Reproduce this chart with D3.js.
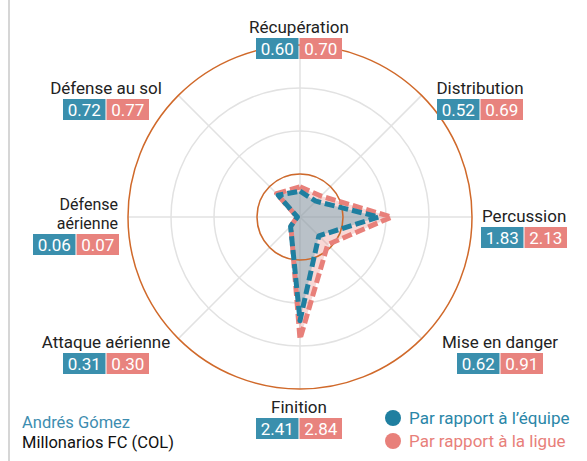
<!DOCTYPE html>
<html>
<head>
<meta charset="utf-8">
<script src="https://cdn.jsdelivr.net/npm/d3@7"></script>
<style>
  html, body { margin: 0; padding: 0; background: #fff; }
  svg { display: block; font-family: Roboto, "Noto Sans", sans-serif; }
</style>
</head>
<body>
<svg id="chart" width="587" height="461"></svg>
<script>
// ---- data ----
const categories = ["Récupération", "Distribution", "Percussion", "Mise en danger",
                    "Finition", "Attaque aérienne", "Défense aérienne", "Défense au sol"];
const teamValues   = [0.60, 0.52, 1.83, 0.62, 2.41, 0.31, 0.06, 0.72];
const leagueValues = [0.70, 0.69, 2.13, 0.91, 2.84, 0.30, 0.07, 0.77];
const gridTicks = [1, 2, 3, 4];
const playerName = "Andrés Gómez";
const clubName = "Millonarios FC (COL)";
const legendLabels = ["Par rapport à l’équipe", "Par rapport à la ligue"];

// ---- layout / style ----
const W = 587, H = 461;
const cx = 300, cy = 217, R = 172;
const colors = {
  teamLine: "#1f7fa0", leagueLine: "#e8807a",
  teamBox: "#3a8fad", leagueBox: "#e8837e",
  grid: "#e2e2e2", orange: "#d0692a", text: "#222"
};
// label block placement relative to chart centre: box-centre x offset, box-top y offset, text anchor
const labelLayout = [
  {dx: -1,   dy: -179, anchor: "middle"},
  {dx: 180,  dy: -118, anchor: "middle"},
  {dx: 224,  dy: 10,   anchor: "start"},
  {dx: 200,  dy: 136,  anchor: "middle"},
  {dx: -1,   dy: 201,  anchor: "middle"},
  {dx: -194, dy: 136,  anchor: "middle"},
  {dx: -224, dy: 17,   anchor: "end", wrap: true},
  {dx: -194, dy: -118, anchor: "middle"}
];
const boxW = 42.5, boxH = 21, boxGap = 1;

const svg = d3.select("#chart");

// left border
svg.append("line").attr("x1", 9).attr("x2", 9).attr("y1", 0).attr("y2", H)
  .attr("stroke", "#d6d6d6").attr("stroke-width", 2);

const g = svg.append("g").attr("transform", `translate(${cx},${cy})`);

const r = d3.scaleLinear().domain([0, 4]).range([0, R]);
const angle = d3.scaleLinear().domain([0, categories.length]).range([0, 2 * Math.PI]);

// grid circles
g.selectAll("circle.grid").data(gridTicks.slice(0, 3)).join("circle")
  .attr("class", "grid").attr("r", d => r(d))
  .attr("fill", "none").attr("stroke", colors.grid).attr("stroke-width", 1.5);

// spokes
g.selectAll("line.spoke").data(categories).join("line")
  .attr("class", "spoke")
  .attr("x1", 0).attr("y1", 0)
  .attr("x2", (d, i) => r(4) * Math.sin(angle(i)))
  .attr("y2", (d, i) => -r(4) * Math.cos(angle(i)))
  .attr("stroke", colors.grid).attr("stroke-width", 1.5);

const radial = d3.lineRadial()
  .angle((d, i) => angle(i))
  .radius(d => r(d))
  .curve(d3.curveLinearClosed);

// fills
g.append("path").datum(leagueValues).attr("d", radial)
  .attr("fill", "rgba(232,125,120,0.3)").attr("stroke", "none");
g.append("path").datum(teamValues).attr("d", radial)
  .attr("fill", "rgba(98,163,180,0.42)").attr("stroke", "none");

// orange reference circles (1 and outer 4)
g.selectAll("circle.ref").data([1, 4]).join("circle")
  .attr("class", "ref").attr("r", d => r(d))
  .attr("fill", "none").attr("stroke", colors.orange).attr("stroke-width", 1.5);

// dashed outlines
g.append("path").datum(leagueValues).attr("d", radial)
  .attr("fill", "none").attr("stroke", colors.leagueLine)
  .attr("stroke-width", 5).attr("stroke-dasharray", "10,4")
  .attr("stroke-linejoin", "round");
g.append("path").datum(teamValues).attr("d", radial)
  .attr("fill", "none").attr("stroke", colors.teamLine)
  .attr("stroke-width", 5).attr("stroke-dasharray", "10,4")
  .attr("stroke-linejoin", "round");

// axis labels with value boxes
const fmt = d3.format(".2f");
categories.forEach((cat, i) => {
  const L = labelLayout[i];
  const bx = cx + L.dx, by = cy + L.dy;
  const left = bx - boxW - boxGap / 2;
  const right = bx + boxW + boxGap / 2;
  const lines = L.wrap ? cat.split(" ") : [cat];
  const fs = lines.length > 1 ? 16 : 17;
  const lh = 19;
  const tx = L.anchor === "start" ? left + 1 : L.anchor === "end" ? right - 1 : bx;
  const lg = svg.append("g");
  lines.forEach((ln, k) => {
    lg.append("text")
      .attr("x", tx)
      .attr("y", by - 5 - (lines.length - 1 - k) * lh)
      .attr("text-anchor", L.anchor)
      .attr("font-size", fs).attr("fill", colors.text)
      .text(ln);
  });
  // team box
  lg.append("rect").attr("x", left).attr("y", by).attr("width", boxW).attr("height", boxH)
    .attr("fill", colors.teamBox);
  lg.append("text").attr("x", left + boxW / 2).attr("y", by + boxH / 2 + 6)
    .attr("text-anchor", "middle").attr("font-size", 17).attr("fill", "#fff")
    .text(fmt(teamValues[i]));
  // league box
  lg.append("rect").attr("x", bx + boxGap / 2).attr("y", by).attr("width", boxW).attr("height", boxH)
    .attr("fill", colors.leagueBox);
  lg.append("text").attr("x", bx + boxGap / 2 + boxW / 2).attr("y", by + boxH / 2 + 6)
    .attr("text-anchor", "middle").attr("font-size", 17).attr("fill", "#fff")
    .text(fmt(leagueValues[i]));
});

// player / club
svg.append("text").attr("x", 22).attr("y", 428).attr("font-size", 16.5)
  .attr("fill", "#3d8db0").text(playerName);
svg.append("text").attr("x", 22).attr("y", 447.5).attr("font-size", 16.5)
  .attr("fill", "#111").text(clubName);

// legend
const legColors = [[colors.teamLine, "#2a86a8"], [colors.leagueLine, "#e8807a"]];
legendLabels.forEach((lab, k) => {
  const y = 418 + k * 23;
  svg.append("circle").attr("cx", 393).attr("cy", y).attr("r", 8).attr("fill", legColors[k][0]);
  svg.append("text").attr("x", 409).attr("y", y + 6).attr("font-size", 17)
    .attr("fill", legColors[k][1]).text(lab);
});
</script>
</body>
</html>
